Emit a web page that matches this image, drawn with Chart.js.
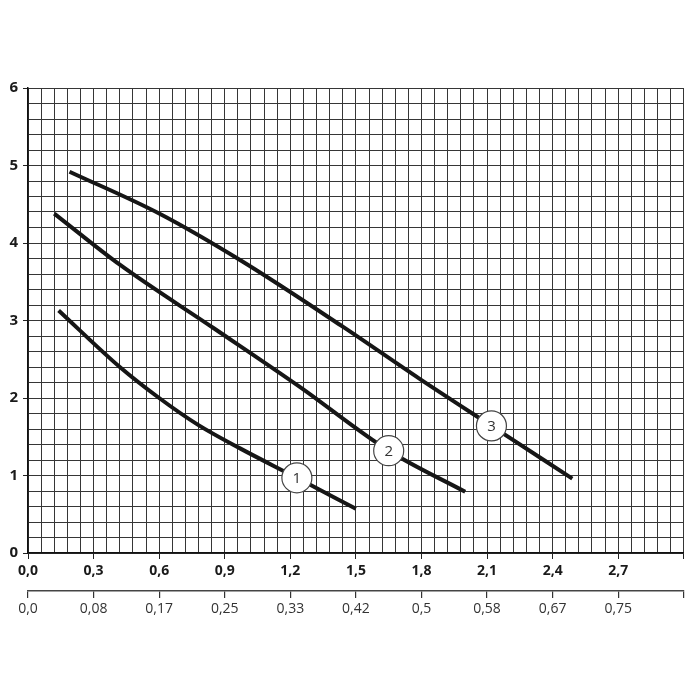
<!DOCTYPE html>
<html>
<head>
<meta charset="utf-8">
<script src="https://cdn.jsdelivr.net/npm/chart.js@4/dist/chart.umd.min.js"></script>
<style>
  html, body { margin: 0; padding: 0; background: #fff; }
  #wrap { width: 700px; height: 700px; }
</style>
</head>
<body>
<div id="wrap"><canvas id="curvasChart"></canvas></div>
<script>
// Datos (caudal en eje X, altura en eje Y)
const curva1X = [0.14, 0.42, 0.60, 0.78, 0.97, 1.23, 1.50];
const curva1Y = [3.13, 2.40, 2.00, 1.65, 1.35, 0.97, 0.57];

const curva2X = [0.12, 0.42, 0.85, 1.24, 1.65, 2.00];
const curva2Y = [4.38, 3.72, 2.90, 2.15, 1.32, 0.79];

const curva3X = [0.19, 0.60, 0.97, 1.44, 1.79, 2.12, 2.49];
const curva3Y = [4.92, 4.38, 3.78, 2.92, 2.25, 1.64, 0.96];

// Marcas numeradas sobre cada curva
const marcaX = [1.23, 1.65, 2.12];
const marcaY = [0.97, 1.32, 1.64];
const marcaTexto = ['1', '2', '3'];

// Etiquetas del segundo eje X (cada 0,3 del eje principal)
const etiquetasEje2 = ['0,0', '0,08', '0,17', '0,25', '0,33', '0,42', '0,5', '0,58', '0,67', '0,75', ''];

function puntos(xs, ys) {
    return xs.map((x, i) => ({ x: x, y: ys[i] }));
}

function esMultiplo(v, paso) {
    const q = v / paso;
    return Math.abs(q - Math.round(q)) < 1e-6;
}

const estiloCurva = {
    type: 'line',
    borderColor: '#161616',
    borderWidth: 4,
    pointRadius: 0,
    fill: false,
    cubicInterpolationMode: 'monotone',
    order: 1
};

const textoMarcas = {
    id: 'textoMarcas',
    afterDatasetsDraw(chart) {
        const ctx = chart.ctx;
        const meta = chart.getDatasetMeta(0);
        ctx.save();
        ctx.font = '15px "Open Sans", sans-serif';
        ctx.fillStyle = '#333';
        ctx.textAlign = 'center';
        ctx.textBaseline = 'middle';
        meta.data.forEach((p, i) => {
            ctx.fillText(marcaTexto[i], p.x, p.y + 1);
        });
        ctx.restore();
    }
};

const ctx = document.getElementById('curvasChart').getContext('2d');
new Chart(ctx, {
    type: 'scatter',
    data: {
        datasets: [
            {
                label: 'marcas',
                data: puntos(marcaX, marcaY),
                pointRadius: 15,
                pointBackgroundColor: '#fff',
                pointBorderColor: '#444',
                pointBorderWidth: 1.2,
                showLine: false,
                order: 0
            },
            Object.assign({ label: '1', data: puntos(curva1X, curva1Y) }, estiloCurva),
            Object.assign({ label: '2', data: puntos(curva2X, curva2Y) }, estiloCurva),
            Object.assign({ label: '3', data: puntos(curva3X, curva3Y) }, estiloCurva)
        ]
    },
    options: {
        responsive: true,
        maintainAspectRatio: false,
        animation: false,
        layout: { padding: { top: 88, right: 15, bottom: 69, left: 0 } },
        plugins: {
            legend: { display: false },
            tooltip: { enabled: false }
        },
        scales: {
            x: {
                type: 'linear',
                position: 'bottom',
                weight: 0,
                min: 0,
                max: 3,
                afterFit: s => { s.height = 38; },
                ticks: {
                    stepSize: 0.06,
                    autoSkip: false,
                    maxRotation: 0,
                    padding: 4,
                    color: '#1a1a1a',
                    font: { family: '"Open Sans", sans-serif', size: 14, weight: 'bold' },
                    callback: v => (esMultiplo(v, 0.3) && v < 2.95) ? v.toFixed(1).replace('.', ',') : ''
                },
                grid: {
                    color: '#363636',
                    lineWidth: 1,
                    tickLength: 6,
                    tickColor: c => (c.tick && esMultiplo(c.tick.value, 0.3)) ? '#222' : 'rgba(0,0,0,0)'
                },
                border: { display: true, color: '#111', width: 1.5 }
            },
            x2: {
                type: 'linear',
                position: 'bottom',
                weight: 1,
                min: 0,
                max: 3,
                afterFit: s => { s.height = 40; },
                ticks: {
                    stepSize: 0.3,
                    autoSkip: false,
                    maxRotation: 0,
                    padding: 3,
                    color: '#333',
                    font: { family: '"Open Sans", sans-serif', size: 14 },
                    callback: v => etiquetasEje2[Math.round(v / 0.3)]
                },
                grid: {
                    drawOnChartArea: false,
                    tickLength: 7,
                    tickColor: '#333',
                    lineWidth: 1.2
                },
                border: { display: true, color: '#444', width: 1.5 }
            },
            y: {
                type: 'linear',
                min: 0,
                max: 6,
                afterFit: s => { s.width = 28; },
                ticks: {
                    stepSize: 0.2,
                    autoSkip: false,
                    padding: 5,
                    color: '#1a1a1a',
                    font: { family: '"Open Sans", sans-serif', size: 15, weight: 'bold' },
                    callback: v => esMultiplo(v, 1) ? String(Math.round(v)) : ''
                },
                grid: {
                    color: '#363636',
                    lineWidth: 1,
                    tickLength: 5,
                    tickColor: c => (c.tick && esMultiplo(c.tick.value, 1)) ? '#222' : 'rgba(0,0,0,0)'
                },
                border: { display: true, color: '#111', width: 1.5 }
            }
        }
    },
    plugins: [textoMarcas]
});
</script>
</body>
</html>
